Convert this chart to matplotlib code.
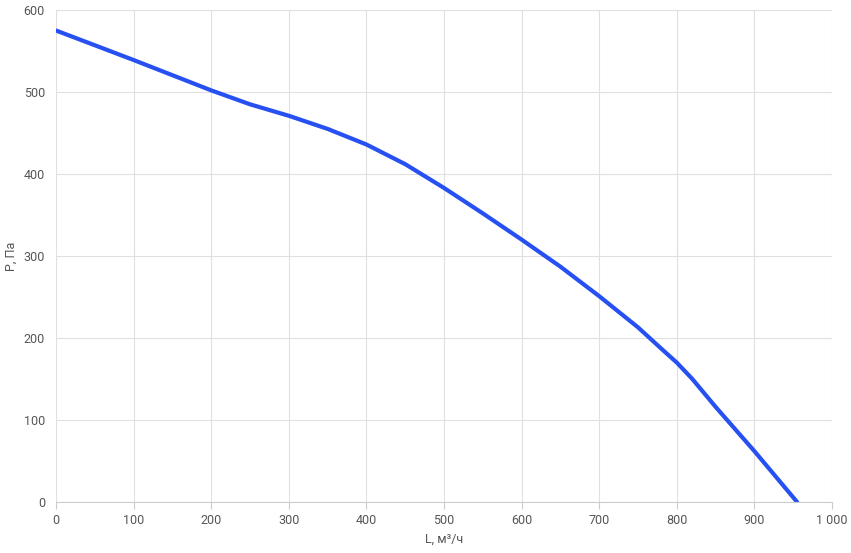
import numpy as np
import matplotlib.pyplot as plt

plt.rcParams['font.family'] = ['Roboto', 'DejaVu Sans']

# values
flow = [0, 100, 200, 250, 300, 350, 400, 450, 500, 550, 600, 650, 700, 750, 780, 800, 820, 850, 900, 955]
pressure = [575, 539, 502, 485, 471, 455, 436, 412, 383, 352, 320, 287, 251, 213, 187, 170, 150, 116, 62, 0]
x_ticks = [0, 100, 200, 300, 400, 500, 600, 700, 800, 900, 1000]
x_labels = ['0', '100', '200', '300', '400', '500', '600', '700', '800', '900', '1 000']
y_ticks = [0, 100, 200, 300, 400, 500, 600]

fig = plt.figure(figsize=(8.51, 5.53), dpi=100)
ax = fig.add_axes([56 / 851, 51 / 553, (832 - 56) / 851, (502 - 10) / 553])

ax.plot(flow, pressure, color='#2650f2', lw=3, solid_capstyle='round', solid_joinstyle='round')

ax.set_xlim(0, 1000)
ax.set_ylim(0, 600)
ax.set_xticks(x_ticks, x_labels)
ax.set_yticks(y_ticks)
ax.grid(True, color='#e0e0e0', lw=0.8)
ax.set_axisbelow(True)
for side in ['top', 'right', 'left']:
    ax.spines[side].set_visible(False)
ax.spines['bottom'].set_color('#cccccc')
ax.tick_params(colors='#555555', labelsize=9, length=0, pad=8)
ax.tick_params(axis='x', length=5, color='#cccccc', pad=4)
ax.set_xlabel('L, м³/ч', color='#555555', fontsize=9, labelpad=4)
ax.set_ylabel('P, Па', color='#555555', fontsize=9, labelpad=4)

fig.savefig('out.png', dpi=100)
